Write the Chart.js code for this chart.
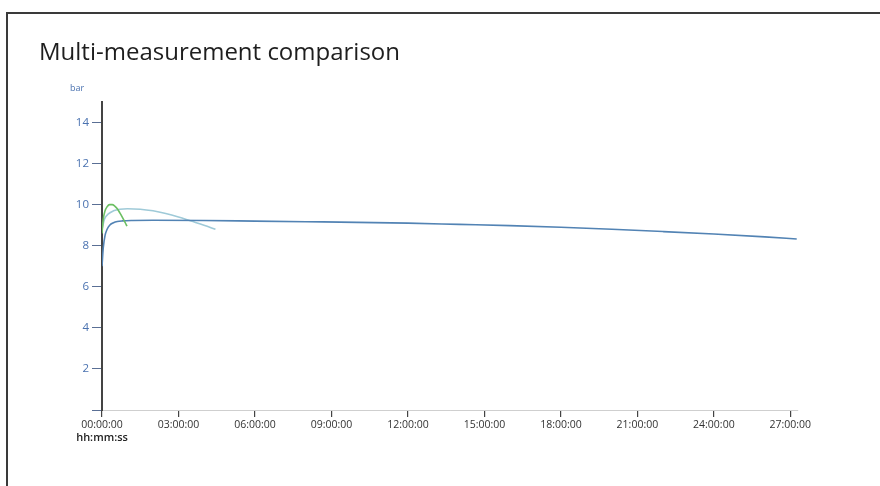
<!DOCTYPE html>
<html>
<head>
<meta charset="utf-8">
<script src="https://cdn.jsdelivr.net/npm/chart.js@4.4.1/dist/chart.umd.min.js"></script>
<style>
  html, body { margin: 0; padding: 0; background: #ffffff; }
  #wrap { position: relative; width: 880px; height: 486px; }
  canvas { display: block; }
</style>
</head>
<body>
<div id="wrap"><canvas id="chart" width="880" height="486"></canvas></div>
<script>
// Elapsed time in hours, pressure in bar
const run1Times  = [0, 0.05, 0.12, 0.2, 0.3, 0.45, 0.6, 0.8, 1.2, 2, 4, 6, 8, 10, 12, 14, 16, 18, 20, 22, 24, 26, 27.25];
const run1Values = [7.0, 7.9, 8.5, 8.8, 9.0, 9.12, 9.18, 9.21, 9.23, 9.24, 9.23, 9.2, 9.17, 9.14, 9.1, 9.04, 8.98, 8.9, 8.8, 8.69, 8.57, 8.43, 8.33];

const run2Times  = [0, 0.1, 0.25, 0.45, 0.7, 1.0, 1.5, 2.0, 2.5, 3.0, 3.5, 4.0, 4.45];
const run2Values = [8.8, 9.3, 9.55, 9.7, 9.78, 9.8, 9.78, 9.7, 9.57, 9.4, 9.2, 9.0, 8.8];

const run3Times  = [0, 0.05, 0.12, 0.2, 0.3, 0.4, 0.5, 0.6, 0.7, 0.8, 0.9, 0.98];
const run3Values = [8.6, 9.3, 9.7, 9.9, 10.0, 10.0, 9.93, 9.8, 9.6, 9.38, 9.15, 8.95];

const yTicks = [0, 2, 4, 6, 8, 10, 12, 14];
const xTickHours = [0, 3, 6, 9, 12, 15, 18, 21, 24, 27];

const titleText = 'Multi-measurement comparison';
const yUnit = 'bar';
const xUnit = 'hh:mm:ss';

function toPoints(times, values) {
  return times.map((t, i) => ({ x: t, y: values[i] }));
}

function hms(h) {
  const hh = Math.floor(h);
  const mm = Math.round((h - hh) * 60);
  return String(hh).padStart(2, '0') + ':' + String(mm).padStart(2, '0') + ':00';
}

const FONT = '"Open Sans", "Noto Sans", sans-serif';

// Frame, title and unit captions
const decorations = {
  id: 'decorations',
  afterDraw(chart) {
    const ctx = chart.ctx;
    ctx.save();
    ctx.strokeStyle = '#3a3a3a';
    ctx.lineWidth = 2;
    ctx.beginPath();
    ctx.moveTo(7, 500);
    ctx.lineTo(7, 13);
    ctx.lineTo(900, 13);
    ctx.stroke();

    ctx.fillStyle = '#1e1e1e';
    ctx.font = '24px ' + FONT;
    ctx.textBaseline = 'alphabetic';
    ctx.textAlign = 'left';
    ctx.fillText(titleText, 39, 60);

    ctx.fillStyle = '#4a72b0';
    ctx.font = '9px ' + FONT;
    ctx.fillText(yUnit, 70, 91);

    ctx.fillStyle = '#222222';
    ctx.font = '600 11px ' + FONT;
    ctx.textAlign = 'center';
    ctx.fillText(xUnit, chart.scales.x.getPixelForValue(0), 441);
    ctx.restore();
  }
};

new Chart(document.getElementById('chart'), {
  type: 'line',
  data: {
    datasets: [
      {
        label: 'Measurement 1',
        data: toPoints(run1Times, run1Values),
        borderColor: '#5283b4',
        borderWidth: 1.6,
        pointRadius: 0,
        cubicInterpolationMode: 'monotone',
        order: 1
      },
      {
        label: 'Measurement 2',
        data: toPoints(run2Times, run2Values),
        borderColor: '#9fcad8',
        borderWidth: 1.6,
        pointRadius: 0,
        cubicInterpolationMode: 'monotone',
        order: 2
      },
      {
        label: 'Measurement 3',
        data: toPoints(run3Times, run3Values),
        borderColor: '#6bbf62',
        borderWidth: 1.6,
        pointRadius: 0,
        cubicInterpolationMode: 'monotone',
        order: 0
      }
    ]
  },
  options: {
    responsive: false,
    animation: false,
    layout: { padding: { left: 0, top: 102, right: 82, bottom: 0 } },
    plugins: { legend: { display: false }, tooltip: { enabled: false } },
    scales: {
      x: {
        type: 'linear',
        min: 0,
        max: 27.3,
        afterFit(scale) { scale.height = 76; },
        afterBuildTicks(scale) { scale.ticks = xTickHours.map(v => ({ value: v })); },
        ticks: {
          callback: (v) => hms(v),
          color: '#333333',
          font: { family: FONT, size: 10.5 },
          padding: 2,
          maxRotation: 0,
          autoSkip: false
        },
        grid: { drawOnChartArea: false, tickLength: 7, color: '#444444', lineWidth: 1.2 },
        border: { color: '#cfcfcf', width: 1 }
      },
      y: {
        min: 0,
        max: 15,
        afterFit(scale) { scale.width = 102; },
        afterBuildTicks(scale) { scale.ticks = yTicks.map(v => ({ value: v })); },
        ticks: {
          callback: (v) => (v === 0 ? '' : String(v)),
          color: '#4a72b0',
          font: { family: FONT, size: 11.5 },
          padding: 3
        },
        grid: { drawOnChartArea: false, tickLength: 10, color: '#5a6f95', lineWidth: 1 },
        border: { color: '#444444', width: 2 }
      }
    }
  },
  plugins: [decorations]
});
</script>
</body>
</html>
